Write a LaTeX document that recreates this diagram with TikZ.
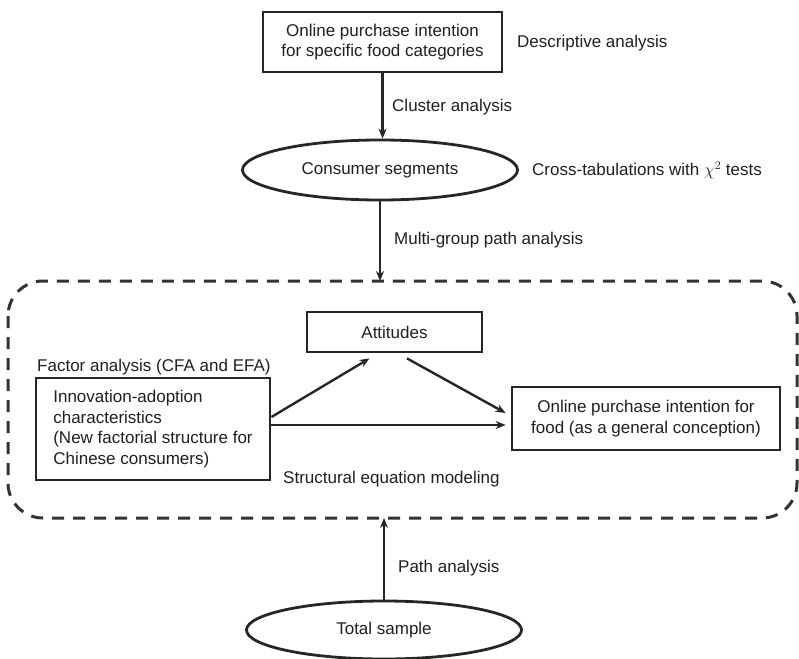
\documentclass[tikz,border=0pt]{standalone}
\usepackage{fontspec}
\setmainfont{Liberation Sans}
\usetikzlibrary{shapes.geometric,arrows.meta}
\begin{document}
\begin{tikzpicture}[x=1pt,y=-1pt,
  font=\fontsize{17}{20.5}\selectfont,
  every node/.style={text=black!88},
  box/.style={draw=black!85, line width=2.8pt, rectangle, inner sep=0pt, align=center},
  ell/.style={draw=black!85, line width=2.8pt, ellipse, inner sep=0pt},
  lbl/.style={anchor=west, inner sep=0pt},
  arr/.style={draw=black!85, line width=2.4pt, -{Stealth[length=10pt,width=8pt]}},
  dbox/.style={draw=black!80, line width=3pt, dash pattern=on 12pt off 9pt, rounded corners=35pt}]
\useasboundingbox (0,0) rectangle (799,658);
% top box
\node[box, minimum width=239, minimum height=60] (top) at (382.5,42) {Online purchase intention\\for specific food categories};
\node[lbl] (desc) at (517,43) {Descriptive analysis};
\node[lbl] (clus) at (392,107) {Cluster analysis};
% consumer segments
\node[ell, minimum width=275, minimum height=60] (cons) at (380,170) {Consumer segments};
\node[lbl] (cross) at (532,170) {Cross-tabulations with $\chi^2$ tests};
\node[lbl] (multi) at (394,240) {Multi-group path analysis};
% dashed box
\coordinate (dtl) at (8,281);
\coordinate (dbr) at (797,518);
\draw[dbox] (dtl) rectangle (dbr);
% inner nodes
\node[box, minimum width=175, minimum height=40] (att) at (394.5,332) {Attitudes};
\node[lbl] (factor) at (37,367) {Factor analysis (CFA and EFA)};
\node[box, minimum width=234, minimum height=102, align=left] (innov) at (153,429) {Innovation-adoption\\characteristics\\(New factorial structure for\\Chinese consumers)};
\node[box, minimum width=268, minimum height=63] (online) at (646,418.5) {Online purchase intention for\\food (as a general conception)};
\node[lbl] (sem) at (283,479) {Structural equation modeling};
\node[lbl] (path) at (398,568) {Path analysis};
% total sample
\node[ell, minimum width=275, minimum height=58] (total) at (384,630) {Total sample};
% connectors
\draw[arr] (top.south) -- (top.south |- cons.north);
\draw[arr] (cons.south) -- (cons.south |- dtl);
\draw[arr] (total.north) -- (total.north |- dbr);
\draw[arr] ([yshift=12pt]innov.east) -- ([xshift=-25pt,yshift=-5pt]att.south);
\draw[arr] ([xshift=12.5pt,yshift=-5pt]att.south) -- ([xshift=-5pt,yshift=5.5pt]online.west);
\draw[arr] ([yshift=4pt]innov.east) -- ([xshift=-5pt,yshift=-6.5pt]online.west);
\end{tikzpicture}
\end{document}
